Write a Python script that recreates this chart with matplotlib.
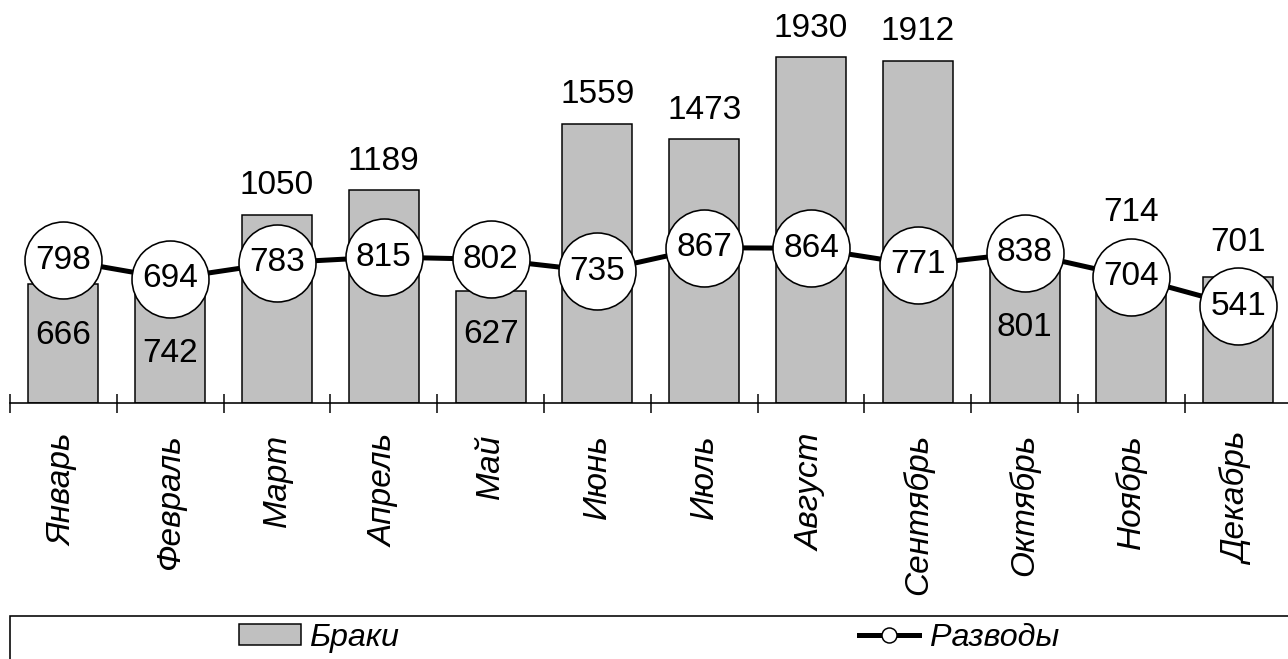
import matplotlib
matplotlib.use("Agg")
import matplotlib.pyplot as plt
from matplotlib.patches import Rectangle, Patch
from matplotlib.lines import Line2D
import numpy as np

months = ["Январь", "Февраль", "Март", "Апрель", "Май", "Июнь", "Июль",
          "Август", "Сентябрь", "Октябрь", "Ноябрь", "Декабрь"]
braki = [666, 742, 1050, 1189, 627, 1559, 1473, 1930, 1912, 801, 714, 701]
razvody = [798, 694, 783, 815, 802, 735, 867, 864, 771, 838, 704, 541]
brak_label_mode = ["below_marker", "below_marker", "above", "above", "below_marker",
                   "above", "above", "above", "above", "below_marker",
                   "above_marker", "above_marker"]

plt.rcParams['font.family'] = ['Liberation Sans', 'DejaVu Sans']
FS = 24
FS_LEG = 23.2
PX = 72 / 100  # points per pixel

W, H = 1288, 659
fig = plt.figure(figsize=(W / 100, H / 100), dpi=100)
ax_left, ax_right, ax_base = 10, 1291.6, 403
ax = fig.add_axes([ax_left / W, (H - ax_base) / H, (ax_right - ax_left) / W, ax_base / H])

x = np.arange(len(months))
ax.bar(x, braki, width=0.655, color="#c0c0c0", edgecolor="black", linewidth=1.5 * PX, zorder=2)
ax.plot(x, razvody, color="black", linewidth=5 * PX, zorder=3,
        marker="o", markersize=77 * PX, markerfacecolor="white",
        markeredgecolor="black", markeredgewidth=1.6 * PX)

for i, v in enumerate(razvody):
    ax.text(i, v, str(v), ha="center", va="center", fontsize=FS, zorder=5)

for i, (b, r, mode) in enumerate(zip(braki, razvody, brak_label_mode)):
    if mode == "above":
        ax.annotate(str(b), (i, b), xytext=(0, 29 * PX), textcoords="offset points",
                    ha="center", va="center", fontsize=FS, zorder=5)
    elif mode == "below_marker":
        ax.annotate(str(b), (i, r), xytext=(0, -75 * PX), textcoords="offset points",
                    ha="center", va="center", fontsize=FS, zorder=5)
    else:
        ax.annotate(str(b), (i, r), xytext=(0, 64 * PX), textcoords="offset points",
                    ha="center", va="center", fontsize=FS, zorder=5)

ax.set_xlim(-0.5, len(months) - 0.5)
ax.set_ylim(0, 2250)
for s in ["left", "top", "right"]:
    ax.spines[s].set_visible(False)
ax.spines["bottom"].set_linewidth(1.6 * PX)
ax.set_yticks([])
ax.set_xticks(x)
ax.set_xticklabels(months, rotation=90, fontsize=FS, fontstyle="italic", va="top", ha="center")
ax.tick_params(axis="x", which="major", length=0, pad=31 * PX)
ax.set_xticks(np.arange(-0.5, len(months)), minor=True)
ax.tick_params(axis="x", which="minor", length=19 * PX, width=1.5 * PX, direction="inout")

# legend frame
fig.patches.append(Rectangle((10 / W, -0.02), 1.0, (H - 616) / H + 0.02, transform=fig.transFigure,
                             fill=False, edgecolor="black", linewidth=1.6 * PX))
h1 = Patch(facecolor="#c0c0c0", edgecolor="black", linewidth=1.5 * PX)
h2 = Line2D([], [], color="black", linewidth=5 * PX, marker="o", markersize=15 * PX,
            markerfacecolor="white", markeredgecolor="black", markeredgewidth=1.5 * PX)
lg1 = fig.legend([h1], ["Браки"], loc="center", bbox_to_anchor=(319 / W, 1 - 638 / H),
                 frameon=False, prop={"size": FS_LEG, "style": "italic"},
                 handlelength=1.9, handleheight=0.6, handletextpad=0.25, borderpad=0)
lg2 = fig.legend([h2], ["Разводы"], loc="center", bbox_to_anchor=(959 / W, 1 - 638 / H),
                 frameon=False, prop={"size": FS_LEG, "style": "italic"},
                 handlelength=1.85, handletextpad=0.35, borderpad=0)

fig.savefig("out.png", dpi=100)
